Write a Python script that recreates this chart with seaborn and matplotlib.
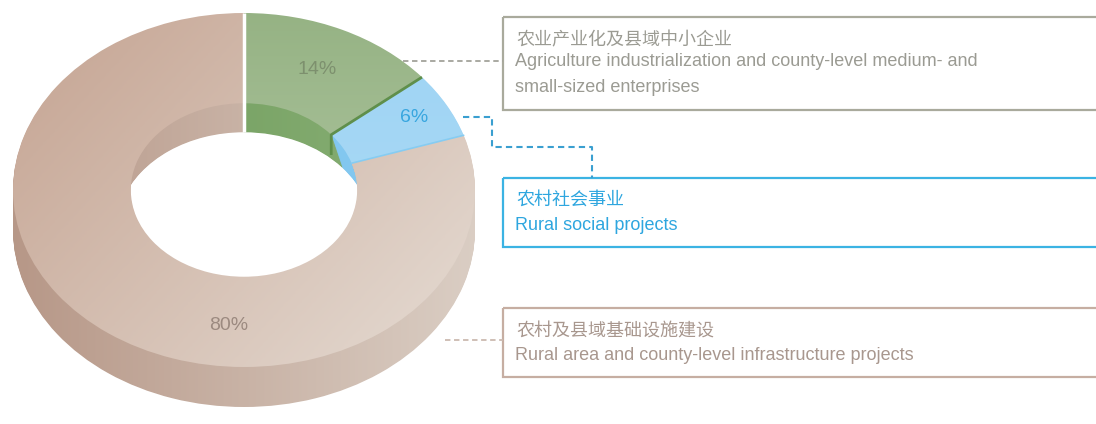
import numpy as np
import matplotlib
matplotlib.use("Agg")
import matplotlib.pyplot as plt
import seaborn as sns
from matplotlib.colors import LinearSegmentedColormap
from matplotlib.patches import Rectangle

# ---- data -------------------------------------------------------------
names_cn = ["农业产业化及县域中小企业", "农村社会事业", "农村及县域基础设施建设"]
names_en = [
    ["Agriculture industrialization and county-level medium- and", "small-sized enterprises"],
    ["Rural social projects"],
    ["Rural area and county-level infrastructure projects"],
]
shares = [14, 6, 80]
pct_labels = ["14%", "6%", "80%"]

# ---- styles -----------------------------------------------------------
top_grad = [("#95b283", "#bacfae", -90), ("#9dd3f4", "#b0ddf6", -90), ("#c4a290", "#e6ddd5", -35)]
side_grad = [("#6a9856", "#8cb279", 0), ("#70bfee", "#8acbf0", 0), ("#b69686", "#dbcfc5", 0)]
label_colors = ["#7d906e", "#38a6df", "#9c8a80"]
label_angles = [65, 29, 265]
label_radii = [0.75, 0.84, 0.77]
box_edge = ["#a9aa9c", "#3bb3e3", "#c6aea2"]
box_text = ["#9b9b93", "#2ea6df", "#a8978e"]
lead_color = ["#a3a39b", "#3a9fd0", "#cbbab0"]

sns.set_theme(style="white")
plt.rcParams["font.family"] = ["Liberation Sans", "Noto Sans CJK SC", "DejaVu Sans"]

W, H = 1096, 424
fig = plt.figure(figsize=(W / 100, H / 100), dpi=100)
fig.patch.set_facecolor("white")

# ellipse geometry (pixels)
cx, cy = 244, 190
rx, ry = 231, 177
depth = 40
ring = 0.51
r_in = 1 - ring
hole_grow = 11 / ry  # lower rings open slightly wider, thinning the inner wall

pax = fig.add_axes([0, 0, 1, 1])
pax.set_facecolor("none")


def gradient_fill(axis, wedge, c0, c1, ang, z):
    n = 200
    t = np.linspace(0, 1, n)
    X, Y = np.meshgrid(t, t)
    a = np.radians(ang)
    d = np.cos(a) * X + np.sin(a) * Y
    d = (d - d.min()) / (d.max() - d.min())
    cmap = LinearSegmentedColormap.from_list("g", [c0, c1])
    ext = (-1.05, 1.05, -1.05 + wedge.center[1], 1.05 + wedge.center[1])
    im = axis.imshow(d, cmap=cmap, extent=ext, origin="lower", aspect="auto",
                     interpolation="bilinear", zorder=z)
    im.set_clip_path(wedge)
    wedge.set_facecolor("none")


# extruded side: stacked rings from the bottom up
for i, k in enumerate(range(depth, 0, -1)):
    width_k = ring - hole_grow * k / depth
    wedges, _ = pax.pie(shares, colors=[g[0] for g in side_grad], startangle=90,
                        counterclock=False, radius=1, center=(0, -k / ry),
                        wedgeprops=dict(width=width_k, linewidth=0))
    for w, g in zip(wedges, side_grad):
        w.set_zorder(2 * i)
        gradient_fill(pax, w, g[0], g[1], g[2], 2 * i + 0.5)

# top face
zt = 2 * depth + 2
wedges, _ = pax.pie(shares, colors=[g[0] for g in top_grad], startangle=90,
                    counterclock=False, radius=1, center=(0, 0),
                    wedgeprops=dict(width=ring, linewidth=0))
for w, g in zip(wedges, top_grad):
    w.set_zorder(zt)
    gradient_fill(pax, w, g[0], g[1], g[2], zt + 0.5)

# slice boundaries
wall = depth / ry - hole_grow
bounds = 90 - 360 * np.cumsum([0] + shares[:-1]) / sum(shares)
th0 = np.radians(bounds[0])
pax.plot([np.cos(th0), r_in * np.cos(th0), r_in * np.cos(th0)],
         [np.sin(th0), r_in * np.sin(th0), r_in * np.sin(th0) - wall],
         color="white", lw=2.5, zorder=zt + 2, solid_capstyle="butt")
th1 = np.radians(bounds[1])
pax.plot([np.cos(th1), r_in * np.cos(th1), r_in * np.cos(th1)],
         [np.sin(th1), r_in * np.sin(th1), r_in * np.sin(th1) - wall * 0.7],
         color="#5f8f4b", lw=2.0, zorder=zt + 2, solid_capstyle="butt")
th2 = np.radians(bounds[2])
pax.plot([np.cos(th2), r_in * np.cos(th2)], [np.sin(th2), r_in * np.sin(th2)],
         color="#86ccf2", lw=1.2, zorder=zt + 2)

# percentage labels
for lab, col, ang, rr in zip(pct_labels, label_colors, label_angles, label_radii):
    a = np.radians(ang)
    pax.text(rr * np.cos(a), rr * np.sin(a), lab, color=col, fontsize=14,
             ha="center", va="center", zorder=zt + 3)

pax.set_xlim(-cx / rx, (W - cx) / rx)
pax.set_ylim((cy - H) / ry, cy / ry)
pax.set_aspect("auto")
pax.axis("off")

# ---- callout boxes ----------------------------------------------------
ax = fig.add_axes([0, 0, 1, 1])
ax.set_facecolor("none")
ax.set_xlim(0, W)
ax.set_ylim(H, 0)
ax.axis("off")

box_left = 503
box_tops = [17, 178, 308]
box_bottoms = [110, 247, 377]
cn_y = [40, 200, 332]
en_y = [62, 225, 355]
en_step = 26

for i in range(3):
    ax.add_patch(Rectangle((box_left, box_tops[i]), W + 10 - box_left,
                           box_bottoms[i] - box_tops[i], fill=False,
                           edgecolor=box_edge[i], lw=1.6))
    ax.text(box_left + 13, cn_y[i], names_cn[i], color=box_text[i], fontsize=13,
            family=["Noto Sans CJK SC"], va="center", ha="left")
    for j, line in enumerate(names_en[i]):
        ax.text(box_left + 12, en_y[i] + j * en_step, line, color=box_text[i],
                fontsize=13, va="center", ha="left")

dash = (0, (3, 2))
ax.plot([403, box_left], [61, 61], color=lead_color[0], lw=1.3, ls=dash)
ax.plot([463, 492, 492, 592, 592], [117, 117, 147, 147, box_tops[1]],
        color=lead_color[1], lw=1.5, ls=dash)
ax.plot([445, box_left], [340, 340], color=lead_color[2], lw=1.3, ls=dash)

fig.savefig("out.png", dpi=100, facecolor="white")
